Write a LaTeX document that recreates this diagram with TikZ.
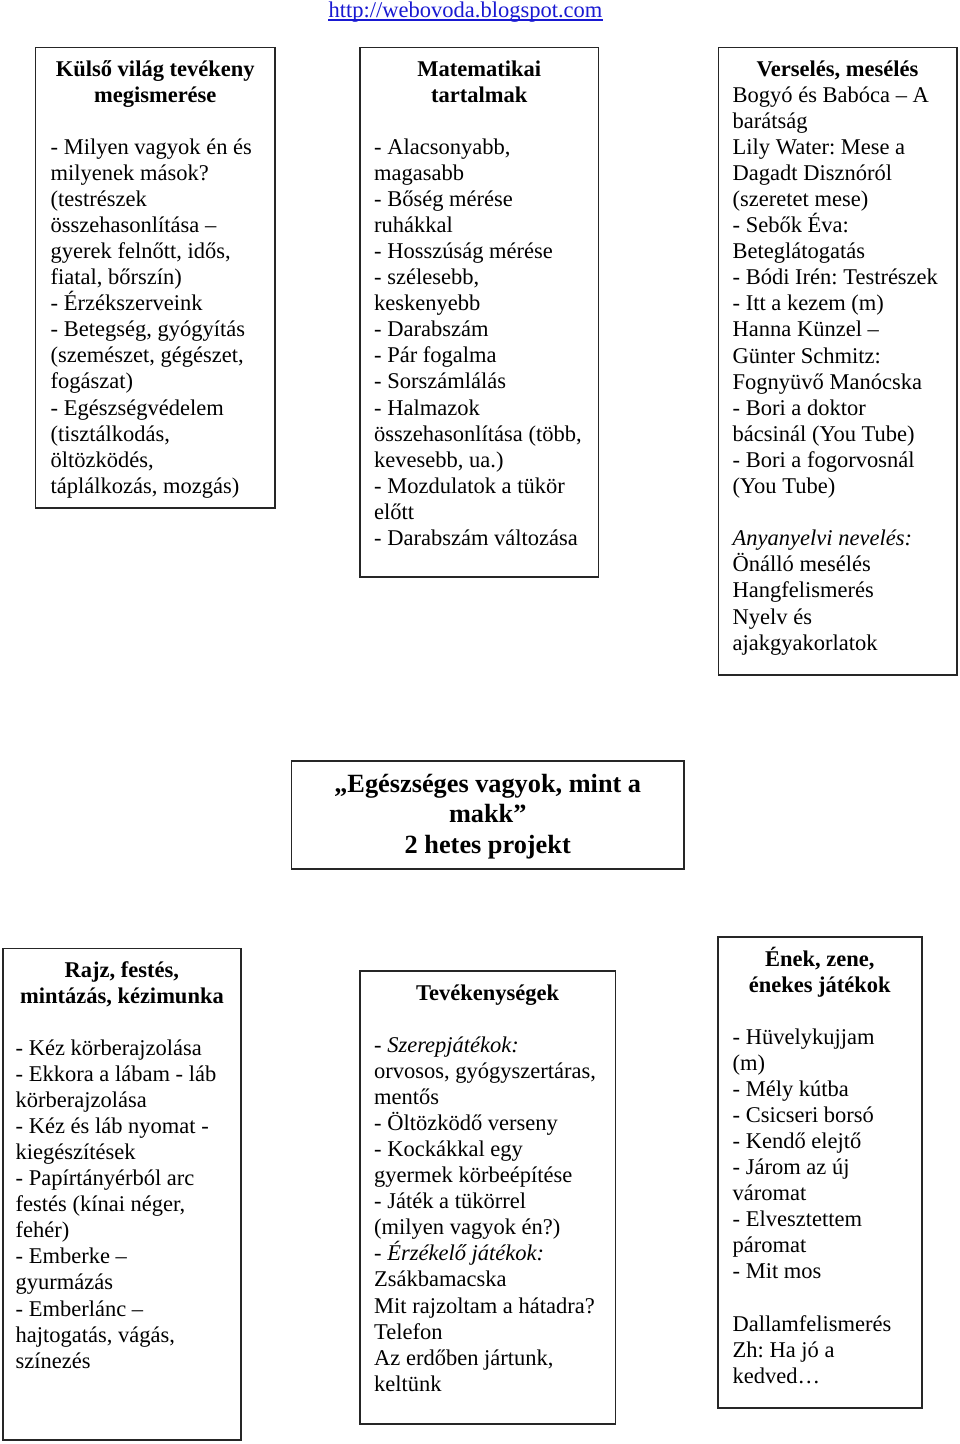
\documentclass[tikz,border=0pt]{standalone}
\usepackage{fontspec}
\setmainfont{Liberation Serif}
\definecolor{linkblue}{RGB}{25,25,210}
\newcommand\bodysz{\fontsize{22.5}{26.1}\selectfont}
\newcommand\titlesz{\fontsize{26.3}{30.5}\selectfont}
\newcommand\leftlines[1]{\vtop{\hsize=500pt\parindent=0pt\frenchspacing\raggedright #1\par}}
\newcommand\midlines[1]{\vtop{\hsize=360pt\parindent=0pt\frenchspacing\centering #1\par}}
\begin{document}
\begin{tikzpicture}[x=1pt,y=-1pt,
  frame/.style={draw=black!85, line width=1.6pt},
  body/.style={anchor=base west, inner sep=0pt, font=\bodysz},
  head/.style={anchor=base, inner sep=0pt, font=\bodysz\bfseries},
  title/.style={anchor=base, inner sep=0pt, font=\titlesz\bfseries},
  link/.style={anchor=base, inner sep=0pt, font=\bodysz, text=linkblue}]
\useasboundingbox[fill=white] (0,0) rectangle (960,1444);

% link
\node[link] (url) at (465.5,17) {http://webovoda.blogspot.com};
\draw[linkblue, line width=1.2pt] ([yshift=-3pt]url.base west) -- ([yshift=-3pt]url.base east);

% frames
\draw[frame] (35.5,47.3) rectangle (275,508);
\draw[frame] (360,47.3) rectangle (598.3,577);
\draw[frame] (718.3,47.3) rectangle (956.7,675);
\draw[frame] (291.5,761) rectangle (684,869);
\draw[frame] (3,948.3) rectangle (240.7,1440);
\draw[frame] (360,970.7) rectangle (615.5,1424);
\draw[frame] (717.7,937) rectangle (921.7,1407.7);

% box 1
\node[head] (h1) at (155.25,76) {\midlines{Külső világ tevékeny\\megismerése}};
\node[body] (t1) at (50.5,154) {\leftlines{%
- Milyen vagyok én és\\
milyenek mások?\\
(testrészek\\
összehasonlítása –\\
gyerek felnőtt, idős,\\
fiatal, bőrszín)\\
- Érzékszerveink\\
- Betegség, gyógyítás\\
(szemészet, gégészet,\\
fogászat)\\
- Egészségvédelem\\
(tisztálkodás,\\
öltözködés,\\
táplálkozás, mozgás)}};

% box 2
\node[head] (h2) at (479.2,76) {\midlines{Matematikai\\tartalmak}};
\node[body] (t2) at (374,154) {\leftlines{%
- Alacsonyabb,\\
magasabb\\
- Bőség mérése\\
ruhákkal\\
- Hosszúság mérése\\
- szélesebb,\\
keskenyebb\\
- Darabszám\\
- Pár fogalma\\
- Sorszámlálás\\
- Halmazok\\
összehasonlítása (több,\\
kevesebb, ua.)\\
- Mozdulatok a tükör\\
előtt\\
- Darabszám változása}};

% box 3
\node[head] (h3) at (837.5,76) {\midlines{Verselés, mesélés}};
\node[body] (t3) at (732.5,102) {\leftlines{%
Bogyó és Babóca – A\\
barátság\\
Lily Water: Mese a\\
Dagadt Disznóról\\
(szeretet mese)\\
- Sebők Éva:\\
Beteglátogatás\\
- Bódi Irén: Testrészek\\
- Itt a kezem (m)\\
Hanna Künzel –\\
Günter Schmitz:\\
Fognyüvő Manócska\\
- Bori a doktor\\
bácsinál (You Tube)\\
- Bori a fogorvosnál\\
(You Tube)\\[26.1pt]
\textit{Anyanyelvi nevelés:}\\
Önálló mesélés\\
Hangfelismerés\\
Nyelv és\\
ajakgyakorlatok}};

% center
\node[title] (tc) at (487.75,792) {\midlines{„Egészséges vagyok, mint a\\makk”\\2 hetes projekt}};

% box 4
\node[head] (h4) at (121.9,977) {\midlines{Rajz, festés,\\mintázás, kézimunka}};
\node[body] (t4) at (15.5,1055) {\leftlines{%
- Kéz körberajzolása\\
- Ekkora a lábam - láb\\
körberajzolása\\
- Kéz és láb nyomat -\\
kiegészítések\\
- Papírtányérból arc\\
festés (kínai néger,\\
fehér)\\
- Emberke –\\
gyurmázás\\
- Emberlánc –\\
hajtogatás, vágás,\\
színezés}};

% box 5
\node[head] (h5) at (487.7,1000) {\midlines{Tevékenységek}};
\node[body] (t5) at (374,1052) {\leftlines{%
- \textit{Szerepjátékok:}\\
orvosos, gyógyszertáras,\\
mentős\\
- Öltözködő verseny\\
- Kockákkal egy\\
gyermek körbeépítése\\
- Játék a tükörrel\\
(milyen vagyok én?)\\
- \textit{Érzékelő játékok:}\\
Zsákbamacska\\
Mit rajzoltam a hátadra?\\
Telefon\\
Az erdőben jártunk,\\
keltünk}};

% box 6
\node[head] (h6) at (819.7,966) {\midlines{Ének, zene,\\énekes játékok}};
\node[body] (t6) at (732.5,1044) {\leftlines{%
- Hüvelykujjam\\
(m)\\
- Mély kútba\\
- Csicseri borsó\\
- Kendő elejtő\\
- Járom az új\\
váromat\\
- Elvesztettem\\
páromat\\
- Mit mos\\[26.1pt]
Dallamfelismerés\\
Zh: Ha jó a\\
kedved…}};
\end{tikzpicture}
\end{document}
